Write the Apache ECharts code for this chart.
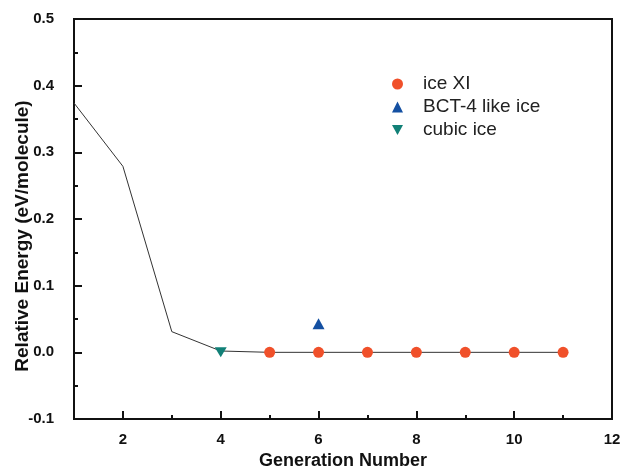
<!DOCTYPE html>
<html>
<head>
<meta charset="utf-8">
<script src="https://cdn.jsdelivr.net/npm/echarts@6/dist/echarts.min.js"></script>
<style>
  html, body { margin: 0; padding: 0; background: #fff; }
  #chart { width: 621px; height: 473px; }
</style>
</head>
<body>
<div id="chart"></div>
<script>
// Relative energy of the lowest structure per generation
const generations = [1, 2, 3, 4, 5, 6, 7, 8, 9, 10, 11];
const bestEnergy = [0.374, 0.279, 0.031, 0.002, 0, 0, 0, 0, 0, 0, 0];

// Structures identified along the search
const iceXIGen = [5, 6, 7, 8, 9, 10, 11];
const iceXIEnergy = [0, 0, 0, 0, 0, 0, 0];
const bctGen = [6];
const bctEnergy = [0.043];
const cubicGen = [4];
const cubicEnergy = [0.0];

// Axis ticks
const xMajorTicks = [2, 4, 6, 8, 10, 12];
const xMinorTicks = [3, 5, 7, 9, 11];

const pairs = (xs, ys) => xs.map((x, i) => [x, ys[i]]);

const FONT = 'Liberation Sans, Arial, sans-serif';
const downTri = 'path://M0,0 L10,0 L5,9 Z';
const colors = { xi: '#F0502A', bct: '#1450A2', cubic: '#118077' };

const chart = echarts.init(document.getElementById('chart'));
const tickFont = { fontFamily: FONT, fontWeight: 'bold', fontSize: 15, color: '#111' };

chart.setOption({
  animation: false,
  backgroundColor: '#fff',
  grid: {
    left: 74, right: 9, top: 19, bottom: 54,
    containLabel: false, outerBoundsMode: 'none',
    show: true, borderColor: '#111', borderWidth: 2, backgroundColor: 'transparent'
  },
  legend: {
    orient: 'vertical',
    left: 387, top: 69,
    itemGap: 3,
    itemWidth: 11, itemHeight: 11,
    textStyle: { fontFamily: FONT, fontSize: 19, lineHeight: 20, color: '#222', padding: [0, 0, 0, 15] },
    data: [
      { name: 'ice XI', icon: 'circle', itemStyle: { color: colors.xi, opacity: 1 } },
      { name: 'BCT-4 like ice', icon: 'triangle', itemStyle: { color: colors.bct, opacity: 1 } },
      { name: 'cubic ice', icon: downTri, itemStyle: { color: colors.cubic, opacity: 1 } }
    ]
  },
  xAxis: [
    {
      type: 'value', min: 1, max: 12, position: 'bottom',
      name: 'Generation Number', nameLocation: 'middle', nameGap: 33, nameMoveOverlap: false,
      nameTextStyle: { fontFamily: FONT, fontWeight: 'bold', fontSize: 18, color: '#111' },
      axisLine: { show: true, onZero: false, lineStyle: { color: '#111', width: 2 } },
      axisTick: { show: true, inside: true, length: 8, lineStyle: { color: '#111', width: 2 }, customValues: xMajorTicks },
      axisLabel: { ...tickFont, margin: 13, customValues: xMajorTicks },
      splitLine: { show: false }
    },
    {
      type: 'value', min: 1, max: 12, position: 'bottom',
      axisLine: { show: false, onZero: false },
      axisTick: { show: true, inside: true, length: 4, lineStyle: { color: '#111', width: 2 }, customValues: xMinorTicks },
      axisLabel: { show: false },
      splitLine: { show: false }
    }
  ],
  yAxis: {
    type: 'value', min: -0.1, max: 0.5, interval: 0.1,
    name: 'Relative Energy (eV/molecule)', nameLocation: 'middle', nameGap: 42, nameMoveOverlap: false,
    nameTextStyle: { fontFamily: FONT, fontWeight: 'bold', fontSize: 19, color: '#111', padding: [0, 34, 0, 0] },
    axisLine: { show: true, onZero: false, lineStyle: { color: '#111', width: 2 } },
    axisTick: { show: true, inside: true, length: 8, lineStyle: { color: '#111', width: 2 } },
    minorTick: { show: true, splitNumber: 2, length: 4, lineStyle: { color: '#111', width: 2 } },
    axisLabel: { ...tickFont, margin: 20, formatter: v => v.toFixed(1) },
    splitLine: { show: false }
  },
  series: [
    {
      name: 'best', type: 'line', data: pairs(generations, bestEnergy),
      symbol: 'none', lineStyle: { color: '#333', width: 1 }, z: 1
    },
    {
      name: 'ice XI', type: 'scatter', data: pairs(iceXIGen, iceXIEnergy),
      symbol: 'circle', symbolSize: 11, itemStyle: { color: colors.xi, opacity: 1 }, z: 3
    },
    {
      name: 'BCT-4 like ice', type: 'scatter', data: pairs(bctGen, bctEnergy),
      symbol: 'triangle', symbolSize: [12, 11], itemStyle: { color: colors.bct, opacity: 1 }, z: 3
    },
    {
      name: 'cubic ice', type: 'scatter', data: pairs(cubicGen, cubicEnergy),
      symbol: downTri, symbolSize: [12, 10], itemStyle: { color: colors.cubic, opacity: 1 }, z: 3
    }
  ]
});
</script>
</body>
</html>
